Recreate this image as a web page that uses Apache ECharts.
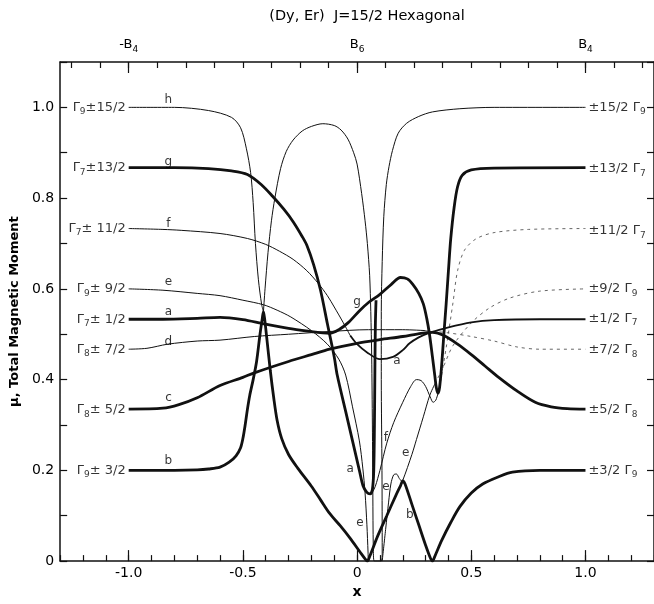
<!DOCTYPE html>
<html><head><meta charset="utf-8">
<script src="https://cdn.jsdelivr.net/npm/echarts@6/dist/echarts.min.js"></script>
<style>html,body{margin:0;padding:0;background:#fff}#c{width:654px;height:604px}</style>
</head><body><div id="c"></div>
<script>
// ---- axis ticks / labels ----
const xMajorTicks = [-1, -0.5, 0, 0.5, 1];
const topMinorTicks = [-1.25,-1.125,-1,-0.875,-0.75,-0.625,-0.5,-0.375,-0.25,-0.125,0,0.125,0.25,0.375,0.5,0.625,0.75,0.875,1,1.125,1.25];
const topMajorTicks = [-1, 0, 1];
const topTickNames = ['-B', 'B', 'B'];
const topTickSubs = ['4', '6', '4'];

// ---- curve end labels ----
const leftLabelY = [1.0, 0.867, 0.733, 0.6, 0.533, 0.467, 0.333, 0.2];
const leftLabelGamma = ['9', '7', '7', '9', '7', '8', '8', '9'];
const leftLabelM = ['±15/2', '±13/2', '± 11/2', '± 9/2', '± 1/2', '± 7/2', '± 5/2', '± 3/2'];
const rightLabelY = [1.0, 0.864, 0.728, 0.6, 0.535, 0.465, 0.333, 0.2];
const rightLabelM = ['±15/2', '±13/2', '±11/2', '±9/2', '±1/2', '±7/2', '±5/2', '±3/2'];
const rightLabelGamma = ['9', '7', '7', '9', '7', '8', '8', '9'];

// ---- curve letters ----
const letters = ['h','g','f','e','a','d','c','b','g','a','a','f','e','e','e','b'];
const letterX = [-0.826,-0.826,-0.826,-0.826,-0.826,-0.826,-0.826,-0.826,0.0,0.174,-0.03,0.126,0.213,0.126,0.013,0.231];
const letterY = [1.016,0.88,0.744,0.616,0.549,0.484,0.359,0.221,0.571,0.441,0.203,0.272,0.238,0.164,0.084,0.102];

// ---- curves (x, moment) ----
const hLeft = [[-1,1.0],[-0.8,1.0],[-0.65,0.993],[-0.55,0.978],[-0.51,0.955],[-0.485,0.91],[-0.466,0.856],[-0.455,0.79],[-0.445,0.70],[-0.432,0.62],[-0.418,0.566],[-0.41,0.55]];
const hMid = [[-0.41,0.55],[-0.403,0.6],[-0.39,0.68],[-0.375,0.75],[-0.36,0.8],[-0.335,0.865],[-0.31,0.903],[-0.28,0.928],[-0.24,0.948],[-0.2,0.958],[-0.15,0.964],[-0.1,0.96],[-0.07,0.95],[-0.04,0.93],[-0.015,0.9],[0.0,0.875],[0.02,0.81],[0.035,0.75],[0.045,0.7],[0.055,0.63],[0.06,0.55],[0.064,0.45],[0.067,0.3],[0.069,0.15],[0.071,0.03],[0.075,0.0],[0.105,0.0],[0.11,0.02],[0.109,0.2],[0.106,0.4],[0.106,0.55],[0.11,0.66],[0.117,0.76],[0.128,0.83],[0.14,0.87],[0.155,0.905],[0.18,0.943],[0.217,0.965],[0.27,0.98],[0.33,0.99],[0.45,0.997],[0.6,1.0],[1.0,1.0]];
const gLeft = [[-1,0.867],[-0.8,0.867],[-0.65,0.865],[-0.55,0.86],[-0.48,0.852],[-0.42,0.83],[-0.37,0.804],[-0.32,0.775],[-0.28,0.748],[-0.24,0.715],[-0.22,0.696],[-0.19,0.653],[-0.16,0.597],[-0.13,0.523],[-0.1,0.45],[-0.087,0.41],[-0.05,0.33],[-0.02,0.265],[0.01,0.2],[0.026,0.166],[0.042,0.152],[0.057,0.148],[0.067,0.158],[0.073,0.2],[0.076,0.3],[0.078,0.42],[0.08,0.52],[0.083,0.575]];
const aHump = [[-1,0.533],[-0.85,0.533],[-0.7,0.535],[-0.6,0.537],[-0.5,0.532],[-0.41,0.523],[-0.3,0.513],[-0.2,0.506],[-0.15,0.503],[-0.12,0.502],[-0.08,0.51],[-0.04,0.525],[0.013,0.553],[0.05,0.57],[0.1,0.588],[0.15,0.61],[0.19,0.625],[0.22,0.622],[0.244,0.61],[0.27,0.59],[0.29,0.567],[0.305,0.535],[0.317,0.5],[0.33,0.45],[0.34,0.41],[0.347,0.382],[0.354,0.37],[0.361,0.382],[0.37,0.43],[0.38,0.5],[0.39,0.567],[0.4,0.64],[0.41,0.71],[0.425,0.78],[0.44,0.825],[0.46,0.85],[0.5,0.862],[0.6,0.866],[1,0.867]];
const fLeft = [[-1,0.733],[-0.85,0.731],[-0.77,0.729],[-0.6,0.722],[-0.48,0.711],[-0.4,0.698],[-0.34,0.683],[-0.28,0.665],[-0.22,0.64],[-0.17,0.612],[-0.13,0.585],[-0.1,0.56],[-0.06,0.525],[-0.03,0.497]];
const aTrough = [[-0.03,0.497],[0.0,0.478],[0.044,0.46],[0.1,0.445],[0.157,0.45],[0.2,0.465],[0.23,0.48],[0.27,0.493],[0.31,0.502],[0.4,0.515],[0.5,0.526],[0.6,0.531],[0.8,0.533],[1,0.533]];
const fRight = [[0.057,0.149],[0.068,0.153],[0.08,0.165],[0.1,0.2],[0.13,0.26],[0.16,0.305],[0.2,0.35],[0.235,0.385],[0.26,0.4],[0.28,0.398],[0.3,0.385],[0.32,0.362],[0.333,0.35],[0.345,0.355],[0.36,0.38]];
const fRightDot = [[0.36,0.38],[0.39,0.47],[0.42,0.57],[0.44,0.64],[0.47,0.685],[0.52,0.71],[0.6,0.724],[0.75,0.731],[1,0.733]];
const eLeft = [[-1,0.6],[-0.85,0.597],[-0.7,0.59],[-0.6,0.585],[-0.5,0.575],[-0.41,0.565],[-0.35,0.553],[-0.29,0.538],[-0.2,0.508],[-0.13,0.478],[-0.08,0.445],[-0.05,0.41],[-0.02,0.34],[0.01,0.265],[0.025,0.205],[0.035,0.15],[0.043,0.08],[0.048,0.02],[0.05,0.0],[0.055,0.008],[0.09,0.055],[0.13,0.1],[0.17,0.145],[0.2,0.178],[0.24,0.235],[0.26,0.268],[0.29,0.318],[0.318,0.365],[0.34,0.39]];
const eRightDot = [[0.34,0.39],[0.375,0.425],[0.42,0.475],[0.5,0.525],[0.58,0.558],[0.67,0.58],[0.8,0.595],[1,0.6]];
const eSmall = [[0.11,0.0],[0.125,0.07],[0.138,0.13],[0.148,0.17],[0.16,0.19],[0.172,0.192],[0.185,0.182],[0.195,0.176]];
const dLeft = [[-1,0.467],[-0.92,0.469],[-0.83,0.478],[-0.7,0.485],[-0.6,0.487],[-0.45,0.495],[-0.3,0.5],[-0.12,0.506],[0.05,0.51],[0.2,0.51],[0.3,0.508]];
const dRightDot = [[0.3,0.508],[0.4,0.503],[0.5,0.495],[0.6,0.485],[0.7,0.472],[0.8,0.467],[1.0,0.467]];
const cCurve = [[-1,0.335],[-0.85,0.337],[-0.78,0.345],[-0.7,0.36],[-0.6,0.387],[-0.5,0.405],[-0.45,0.415],[-0.3,0.44],[-0.2,0.455],[-0.12,0.467],[0,0.48],[0.1,0.488],[0.2,0.495],[0.28,0.502],[0.33,0.504],[0.38,0.497],[0.44,0.478],[0.5,0.455],[0.56,0.43],[0.62,0.405],[0.7,0.375],[0.78,0.35],[0.85,0.34],[0.92,0.336],[1.0,0.335]];
const bCurve = [[-1,0.2],[-0.8,0.2],[-0.7,0.201],[-0.65,0.203],[-0.6,0.207],[-0.56,0.218],[-0.53,0.232],[-0.51,0.25],[-0.5,0.27],[-0.49,0.3],[-0.48,0.335],[-0.47,0.365],[-0.455,0.4],[-0.44,0.44],[-0.425,0.5],[-0.415,0.535],[-0.41,0.55],[-0.405,0.535],[-0.395,0.49],[-0.38,0.42],[-0.365,0.36],[-0.35,0.31],[-0.33,0.27],[-0.3,0.235],[-0.26,0.205],[-0.2,0.165],[-0.16,0.135],[-0.12,0.105],[-0.074,0.078],[-0.03,0.05],[0.013,0.02],[0.035,0.005],[0.045,0.0],[0.055,0.01],[0.09,0.055],[0.13,0.1],[0.17,0.145],[0.19,0.166],[0.2,0.177],[0.21,0.17],[0.24,0.125],[0.27,0.08],[0.3,0.035],[0.32,0.008],[0.33,0.0],[0.34,0.01],[0.37,0.045],[0.41,0.085],[0.45,0.12],[0.5,0.15],[0.55,0.17],[0.62,0.186],[0.68,0.196],[0.8,0.2],[1.0,0.2]];

const FONT = 'DejaVu Sans';
const INK = '#000';
const THICK = 2.8, MED = 1.8, THIN = 1.0;

function curve(data, width, dotted) {
  return {
    type: 'line', data: data, showSymbol: false, symbol: 'none', smooth: 0.3,
    lineStyle: { color: dotted ? '#555' : '#111', width: width, type: dotted ? [3, 4] : 'solid' },
    silent: true, animation: false, z: 3
  };
}

const subRich = {
  n: { fontSize: 13, fontFamily: FONT, color: INK, lineHeight: 18 },
  s: { fontSize: 9, fontFamily: FONT, color: INK, verticalAlign: 'bottom', lineHeight: 10 }
};

const leftLabelData = leftLabelY.map((y, i) => ({
  value: [-1.0, y],
  label: { formatter: '{n|Γ}{s|' + leftLabelGamma[i] + '}{n|' + leftLabelM[i] + '}' }
}));
const rightLabelData = rightLabelY.map((y, i) => ({
  value: [1.0, y],
  label: { formatter: '{n|' + rightLabelM[i] + ' Γ}{s|' + rightLabelGamma[i] + '}' }
}));
const letterData = letters.map((t, i) => ({ value: [letterX[i], letterY[i]], label: { formatter: t } }));

const axisLineStyle = { color: '#111', width: 1.5 };
const tickStyle = { color: '#111', width: 1.2 };

const option = {
  backgroundColor: '#fff',
  animation: false,
  title: {
    text: '(Dy, Er)  J=15/2 Hexagonal', left: 362, top: 4, textAlign: 'center',
    textStyle: { fontFamily: FONT, fontSize: 14.5, fontWeight: 'normal', color: INK }
  },
  grid: { left: 59, right: 0, top: 62, bottom: 35, containLabel: false },
  xAxis: [
    { type: 'value', position: 'bottom', min: -1.3, max: 1.3, interval: 0.1,
      axisLine: { show: true, onZero: false, lineStyle: axisLineStyle },
      axisTick: { show: true, inside: true, length: 6, lineStyle: tickStyle },
      axisLabel: { show: false }, splitLine: { show: false } },
    { type: 'value', position: 'bottom', min: -1.3, max: 1.3,
      axisLine: { show: false, onZero: false },
      axisTick: { show: true, inside: true, length: 11, customValues: xMajorTicks, lineStyle: tickStyle },
      axisLabel: { show: true, customValues: xMajorTicks, margin: 5, fontSize: 14, fontFamily: FONT, color: INK,
        formatter: v => (Math.abs(v) < 1e-9 ? '0' : (Math.abs(v - Math.round(v)) < 1e-9 ? v.toFixed(1) : String(v))) },
      splitLine: { show: false },
      name: 'x', nameLocation: 'middle', nameGap: 23, nameTextStyle: { fontFamily: FONT, fontSize: 14, color: INK, fontWeight: 'bold' } },
    { type: 'value', position: 'top', min: -1.3, max: 1.3,
      axisLine: { show: true, onZero: false, lineStyle: axisLineStyle },
      axisTick: { show: true, inside: true, length: 6, customValues: topMinorTicks, lineStyle: tickStyle },
      axisLabel: { show: false }, splitLine: { show: false } },
    { type: 'value', position: 'top', min: -1.3, max: 1.3,
      axisLine: { show: false, onZero: false },
      axisTick: { show: true, inside: true, length: 11, customValues: topMajorTicks, lineStyle: tickStyle },
      axisLabel: { show: true, customValues: topMajorTicks, margin: 8,
        formatter: v => { const i = topMajorTicks.indexOf(Math.round(v)); return '{n|' + topTickNames[i] + '}{s|' + topTickSubs[i] + '}'; },
        rich: subRich },
      splitLine: { show: false } }
  ],
  yAxis: [
    { type: 'value', position: 'left', min: 0, max: 1.1, interval: 0.1,
      axisLine: { show: true, onZero: false, lineStyle: axisLineStyle },
      axisTick: { show: true, inside: true, length: 7, lineStyle: tickStyle },
      axisLabel: { show: true, margin: 6, fontSize: 14, fontFamily: FONT, color: INK,
        formatter: v => { const k = Math.round(v * 10); if (k % 2 !== 0 || k > 10) return ''; return k === 0 ? '0' : (k / 10).toFixed(1); } },
      splitLine: { show: false },
      name: 'μ, Total Magnetic Moment', nameLocation: 'middle', nameGap: 28,
      nameTextStyle: { fontFamily: FONT, fontSize: 13, fontWeight: 'bold', color: INK } },
    { type: 'value', position: 'right', min: 0, max: 1.1, interval: 0.1,
      axisLine: { show: true, onZero: false, lineStyle: axisLineStyle },
      axisTick: { show: true, inside: true, length: 7, lineStyle: tickStyle },
      axisLabel: { show: false }, splitLine: { show: false } }
  ],
  series: [
    curve(hLeft, THIN), curve(hMid, THIN),
    curve(fLeft, THIN), curve(fRight, THIN), curve(fRightDot, 0.9, true),
    curve(eLeft, THIN), curve(eRightDot, 0.9, true), curve(eSmall, THIN),
    curve(dLeft, THIN), curve(dRightDot, 0.9, true),
    curve(aTrough, MED),
    curve(cCurve, THICK), curve(bCurve, THICK), curve(gLeft, THICK), curve(aHump, THICK),
    { type: 'scatter', data: leftLabelData, symbolSize: 0, silent: true, z: 5,
      label: { show: true, position: 'left', distance: 3, rich: subRich } },
    { type: 'scatter', data: rightLabelData, symbolSize: 0, silent: true, z: 5,
      label: { show: true, position: 'right', distance: 3, rich: subRich } },
    { type: 'scatter', data: letterData, symbolSize: 0, silent: true, z: 5,
      label: { show: true, position: 'inside', fontSize: 12, fontFamily: FONT, color: INK } }
  ]
};

const chart = echarts.init(document.getElementById('c'), null, { renderer: 'canvas' });
chart.setOption(option);
</script></body></html>
